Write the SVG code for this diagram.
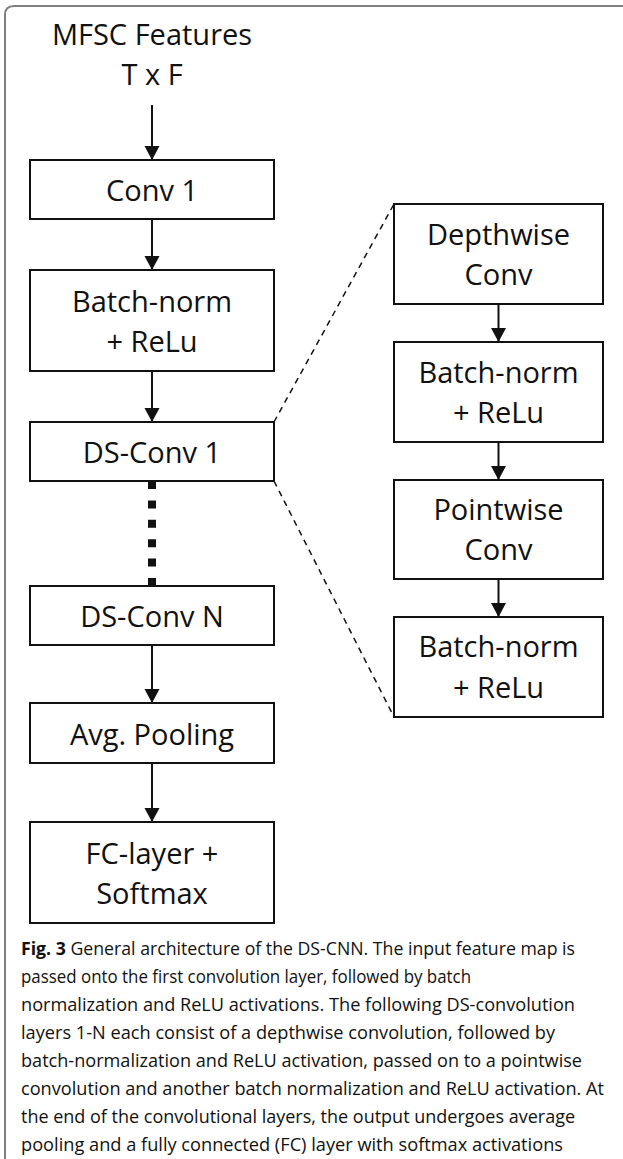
<svg xmlns="http://www.w3.org/2000/svg" width="623" height="1159" viewBox="0 0 623 1159">
  <defs>
    <marker id="ah" markerUnits="userSpaceOnUse" markerWidth="16" markerHeight="16" refX="14" refY="8" orient="auto">
      <path d="M0,0.5 L14,8 L0,15.5 Z" fill="#111111"/>
    </marker>
  </defs>
  <style>
    .box { fill: #ffffff; stroke: #111111; stroke-width: 2; }
    .lbl { font-family: "Open Sans", "Liberation Sans", sans-serif; font-size: 29px; fill: #111111; text-anchor: middle; }
    .arr { stroke: #111111; stroke-width: 2; fill: none; marker-end: url(#ah); }
    .dash { stroke: #111111; stroke-width: 1.5; fill: none; stroke-dasharray: 6 5; }
    .cap { font-family: "Open Sans", "Liberation Sans", sans-serif; font-size: 18.5px; fill: #111111; }
  </style>
  <rect width="623" height="1159" fill="#ffffff"/>
  <path d="M5,1159 V15 Q5,6 14,6 H623" fill="none" stroke="#808080" stroke-width="2"/>

  <g id="input">
    <text class="lbl" x="152" y="45" font-size="30">MFSC Features</text>
    <text class="lbl" x="152" y="85">T x F</text>
  </g>
  <g id="conv1">
    <rect class="box" x="30" y="160" width="244" height="59"/>
    <text class="lbl" x="152" y="201">Conv 1</text>
  </g>
  <g id="bn1">
    <rect class="box" x="30" y="270" width="244" height="101"/>
    <text class="lbl" x="152" y="312">Batch-norm</text>
    <text class="lbl" x="152" y="352">+ ReLu</text>
  </g>
  <g id="dsconv1">
    <rect class="box" x="30" y="422" width="244" height="59"/>
    <text class="lbl" x="152" y="463">DS-Conv 1</text>
  </g>
  <g id="dsconvN">
    <rect class="box" x="30" y="586" width="244" height="59"/>
    <text class="lbl" x="152" y="627">DS-Conv N</text>
  </g>
  <g id="avgpool">
    <rect class="box" x="30" y="703" width="244" height="60"/>
    <text class="lbl" x="152" y="745">Avg. Pooling</text>
  </g>
  <g id="fc">
    <rect class="box" x="30" y="822" width="244" height="101"/>
    <text class="lbl" x="152" y="864">FC-layer +</text>
    <text class="lbl" x="152" y="904">Softmax</text>
  </g>

  <g id="depthwise">
    <rect class="box" x="394" y="204" width="209" height="100"/>
    <text class="lbl" x="498.5" y="245">Depthwise</text>
    <text class="lbl" x="498.5" y="285">Conv</text>
  </g>
  <g id="bn2">
    <rect class="box" x="394" y="342" width="209" height="100"/>
    <text class="lbl" x="498.5" y="383">Batch-norm</text>
    <text class="lbl" x="498.5" y="423">+ ReLu</text>
  </g>
  <g id="pointwise">
    <rect class="box" x="394" y="480" width="209" height="99"/>
    <text class="lbl" x="498.5" y="520">Pointwise</text>
    <text class="lbl" x="498.5" y="560">Conv</text>
  </g>
  <g id="bn3">
    <rect class="box" x="394" y="617" width="209" height="100"/>
    <text class="lbl" x="498.5" y="657">Batch-norm</text>
    <text class="lbl" x="498.5" y="698">+ ReLu</text>
  </g>

  <g id="connectors">
    <line class="arr" x1="152" y1="105" x2="152" y2="160"/>
    <line class="arr" x1="152" y1="219" x2="152" y2="270"/>
    <line class="arr" x1="152" y1="371" x2="152" y2="422"/>
    <line x1="152" y1="481" x2="152" y2="586" stroke="#111111" stroke-width="8" stroke-dasharray="8 11.4"/>
    <line class="arr" x1="152" y1="645" x2="152" y2="703"/>
    <line class="arr" x1="152" y1="763" x2="152" y2="822"/>
    <line class="arr" x1="498.5" y1="304" x2="498.5" y2="342"/>
    <line class="arr" x1="498.5" y1="442" x2="498.5" y2="480"/>
    <line class="arr" x1="498.5" y1="579" x2="498.5" y2="617"/>
    <line class="dash" x1="274" y1="422" x2="394" y2="204"/>
    <line class="dash" x1="274" y1="481" x2="394" y2="717"/>
  </g>

  <g id="caption">
    <text class="cap" x="21" y="955" textLength="554" lengthAdjust="spacingAndGlyphs"><tspan font-weight="bold">Fig. 3</tspan> General architecture of the DS-CNN. The input feature map is</text>
    <text class="cap" x="21" y="983" textLength="450" lengthAdjust="spacingAndGlyphs">passed onto the first convolution layer, followed by batch</text>
    <text class="cap" x="21" y="1011" textLength="554" lengthAdjust="spacingAndGlyphs">normalization and ReLU activations. The following DS-convolution</text>
    <text class="cap" x="21" y="1039" textLength="534" lengthAdjust="spacingAndGlyphs">layers 1-N each consist of a depthwise convolution, followed by</text>
    <text class="cap" x="21" y="1067" textLength="561" lengthAdjust="spacingAndGlyphs">batch-normalization and ReLU activation, passed on to a pointwise</text>
    <text class="cap" x="21" y="1095" textLength="583" lengthAdjust="spacingAndGlyphs">convolution and another batch normalization and ReLU activation. At</text>
    <text class="cap" x="21" y="1123" textLength="554" lengthAdjust="spacingAndGlyphs">the end of the convolutional layers, the output undergoes average</text>
    <text class="cap" x="21" y="1151" textLength="542" lengthAdjust="spacingAndGlyphs">pooling and a fully connected (FC) layer with softmax activations</text>
  </g>
</svg>
